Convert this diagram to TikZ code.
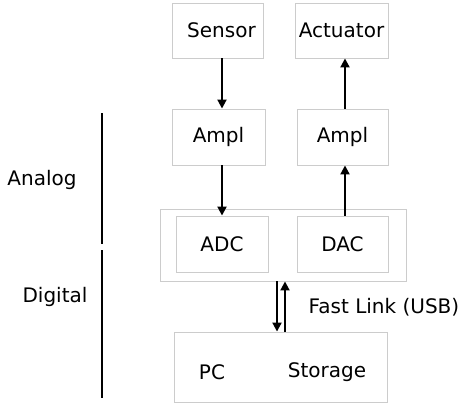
\documentclass[tikz,border=0pt]{standalone}
\usepackage{fontspec}
\setmainfont{DejaVu Sans}
\usetikzlibrary{arrows.meta,calc}
\begin{document}
\begin{tikzpicture}[x=1pt,y=-1pt,
  box/.style={draw=black!20, line width=0.9pt, inner sep=0pt, font=\fontsize{20}{23}\selectfont},
  lbl/.style={inner sep=0pt, font=\fontsize{20}{23}\selectfont},
  arr/.style={line width=2pt, -{Triangle[length=9pt,width=9pt]}},
  divider/.style={line width=2.2pt}]
  \useasboundingbox (0,0) rectangle (463,404);
  % signal-chain blocks
  \node[box, minimum width=91pt, minimum height=55pt] (sensor) at (217.5,30.5) {};
  \node[lbl] (sensortext) at (221.5,30.5) {Sensor};
  \node[box, minimum width=93pt, minimum height=55pt] (actuator) at (341.5,30.5) {Actuator};
  \node[box, minimum width=93pt, minimum height=56pt] (amplL) at (218.5,137) {Ampl};
  \node[box, minimum width=91pt, minimum height=56pt] (amplR) at (342.5,137) {Ampl};
  \node[box, minimum width=246pt, minimum height=72pt] (conv) at (283,245) {};
  \node[box, minimum width=92pt, minimum height=56pt] (adc) at (222,244) {ADC};
  \node[box, minimum width=91pt, minimum height=56pt] (dac) at (342.5,244) {DAC};
  \node[box, minimum width=213pt, minimum height=70pt] (pc) at (280.5,367) {};
  \node[lbl] (pctext) at (212,372) {PC};
  \node[lbl] (storage) at (327,372) {Storage};
  \node[lbl] (link) at (384,307) {Fast Link (USB)};
  % domain labels and dividers
  \node[lbl] (analog) at (42,180) {Analog};
  \node[lbl] (digital) at (55,297) {Digital};
  \coordinate (a1) at (102,113);
  \coordinate (a2) at (102,244);
  \coordinate (d1) at (102,250);
  \coordinate (d2) at (102,398);
  \draw[divider] (a1) -- (a2);
  \draw[divider] (d1) -- (d2);
  % signal flow
  \draw[arr] (sensor.south -| adc.center) -- (amplL.north -| adc.center);
  \draw[arr] (amplL.south -| adc.center) -- (adc.north);
  \coordinate (rx) at (345,0);
  \draw[arr] (dac.north -| rx) -- (amplR.south -| rx);
  \draw[arr] (amplR.north -| rx) -- (actuator.south -| rx);
  % USB link
  \coordinate (dn) at (277,0);
  \coordinate (up) at (285,0);
  \draw[arr] (conv.south -| dn) -- (pc.north -| dn);
  \draw[arr] (pc.north -| up) -- (conv.south -| up);
\end{tikzpicture}
\end{document}
